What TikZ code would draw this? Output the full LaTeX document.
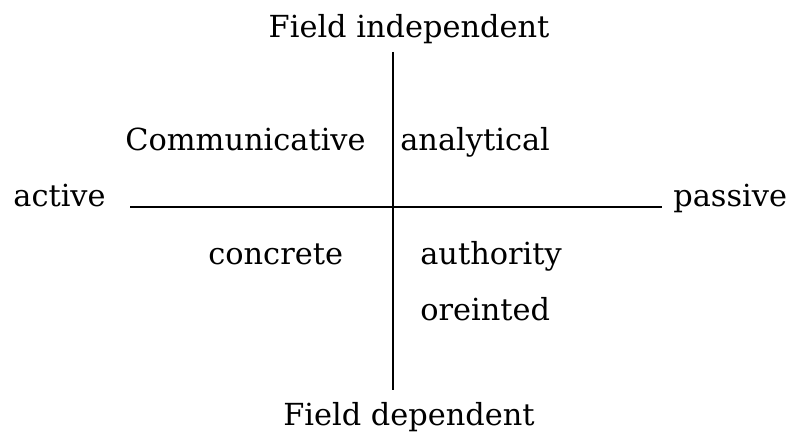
\documentclass[tikz,border=0pt]{standalone}
\usepackage{fontspec}
\setmainfont{DejaVu Serif}
\usetikzlibrary{positioning}

\tikzset{
  lbl/.style={inner sep=0pt, anchor=base west, font=\fontsize{17.3}{20}\selectfont},
  axis/.style={line width=1pt},
}

\begin{document}
\begin{tikzpicture}[x=0.02cm, y=-0.02cm]
      \useasboundingbox (0,0) rectangle (794,439);
      \coordinate (top) at (393,52);
      \coordinate (bot) at (393,390);
      \coordinate (lft) at (130,207);
      \coordinate (rgt) at (662,207);
      \coordinate (ma) at (228,207);
      \coordinate (mb) at (237,207);
      \node[lbl, anchor=base] (fi) at (409,38) {Field independent};
      \node[lbl, anchor=base] (fd) at (409,425) {Field dependent};
      \node[lbl] (com) at (125,151) {Communicative};
      \node[lbl] (ana) at (400,151) {analytical};
      \node[lbl, anchor=base east] (act) at (106,206) {active};
      \node[lbl] (pas) at (673,206) {passive};
      \node[lbl] (con) at (208,264) {concrete};
      \node[lbl] (aut) at (420,264) {authority};
      \node[lbl] (ore) at (420,320) {oreinted};
      \draw[axis] (top) -- (bot);
      \draw[axis] (lft) -- (rgt);
      \draw[line width=1.4pt] (ma) -- (mb);
    \end{tikzpicture}
\end{document}
